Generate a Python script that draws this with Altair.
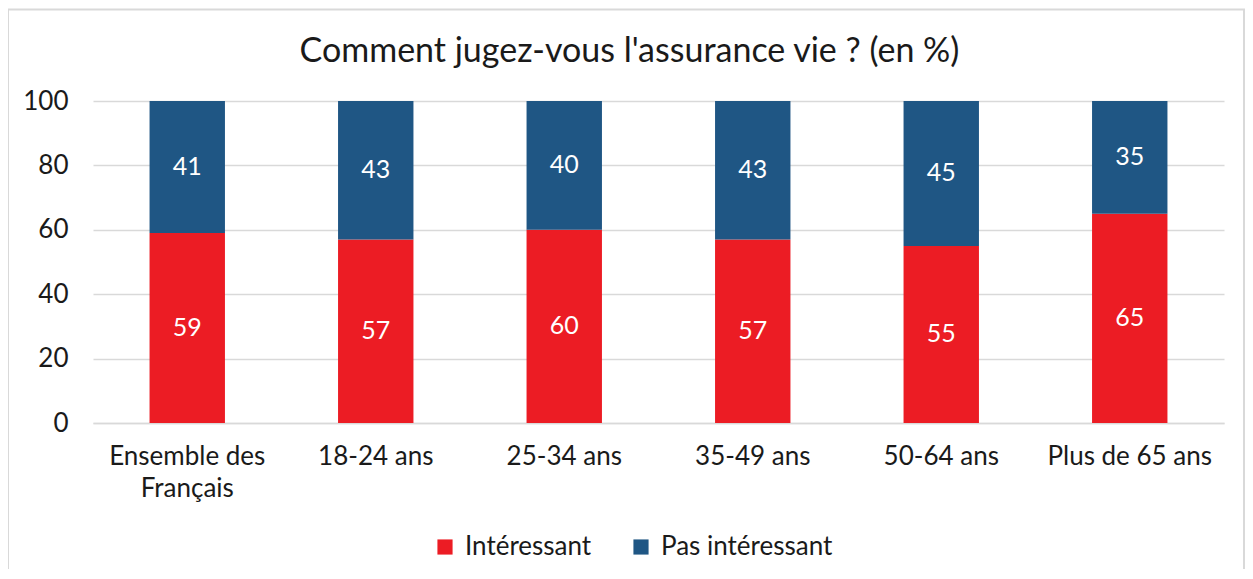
import altair as alt
import pandas as pd

categories = ["Ensemble des Français", "18-24 ans", "25-34 ans", "35-49 ans", "50-64 ans", "Plus de 65 ans"]
interessant = [59, 57, 60, 57, 55, 65]
pas_interessant = [41, 43, 40, 43, 45, 35]
series = ["Intéressant", "Pas intéressant"]
colors = ["#EC1C24", "#1F5684"]
title_text = "Comment jugez-vous l'assurance vie ? (en %)"

rows = []
for c, a, b in zip(categories, interessant, pas_interessant):
    rows.append({"cat": c, "serie": series[0], "value": a, "ord": 0})
    rows.append({"cat": c, "serie": series[1], "value": b, "ord": 1})
df = pd.DataFrame(rows)

FONT = "Lato"
FS = 26
W, H = 1131, 322

x = alt.X("cat:N", sort=categories, title=None,
          scale=alt.Scale(paddingInner=0.6, paddingOuter=0.3),
          axis=alt.Axis(labelAngle=0, labelFontSize=FS, labelFont=FONT, labelColor="#1a1a1a",
                        labelPadding=20, ticks=False, domainColor="#d9d9d9", domainWidth=1.5,
                        labelLineHeight=32, labelLimit=300,
                        labelExpr="datum.label == 'Ensemble des Français' ? ['Ensemble des', 'Français'] : datum.label"))

base = alt.Chart(df)

bars = base.mark_bar().encode(
    x=x,
    y=alt.Y("value:Q", stack="zero", title=None,
            scale=alt.Scale(domain=[0, 100], nice=False),
            axis=alt.Axis(values=[0, 20, 40, 60, 80, 100], labelFontSize=FS, labelFont=FONT,
                          labelColor="#1a1a1a", labelPadding=25, ticks=False, domain=False,
                          gridColor="#d9d9d9", gridWidth=1.5)),
    color=alt.Color("serie:N", scale=alt.Scale(domain=series, range=colors),
                    legend=alt.Legend(title=None, orient="none", legendX=339, legendY=433,
                                      direction="horizontal", symbolType="square", symbolSize=230,
                                      symbolStrokeWidth=0, labelFontSize=FS, labelFont=FONT,
                                      labelColor="#1a1a1a", columnPadding=36, labelOffset=7,
                                      labelLimit=400)),
    order=alt.Order("ord:Q"),
)

texts = base.transform_stack(
    stack="value", groupby=["cat"], as_=["v0", "v1"], sort=[alt.SortField("ord")]
).transform_calculate(
    mid="(datum.v0 + datum.v1) / 2"
).mark_text(color="white", fontSize=25, font=FONT, baseline="middle").encode(
    x=alt.X("cat:N", sort=categories),
    y=alt.Y("mid:Q"),
    text=alt.Text("value:Q"),
)

title = alt.Chart(pd.DataFrame({"t": [title_text]})).mark_text(
    fontSize=34, font=FONT, color="#1a1a1a", baseline="alphabetic", align="center"
).encode(x=alt.value(W / 2 - 29), y=alt.value(-39), text="t:N")

border = alt.Chart(pd.DataFrame({"a": [0]})).mark_rect(
    fill=None, stroke="#d9d9d9", strokeWidth=2
).encode(x=alt.value(-85), x2=alt.value(W + 20), y=alt.value(-91.5), y2=alt.value(H + 300))

chart = alt.layer(bars, texts, title, border).properties(
    width=W, height=H,
    autosize=alt.AutoSizeParams(type="none"),
    padding={"left": 85, "top": 93, "right": 21, "bottom": 146},
).configure_view(stroke=None)

chart.save("out.html", embed_options={"renderer": "svg", "actions": False})
